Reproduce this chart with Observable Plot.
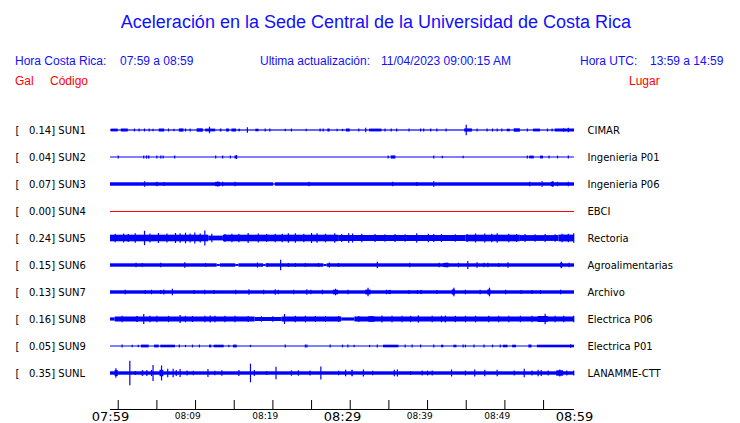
<!DOCTYPE html>
<html>
<head>
<meta charset="utf-8">
<script src="https://cdn.jsdelivr.net/npm/d3@7"></script>
<script src="https://cdn.jsdelivr.net/npm/@observablehq/plot@0.6"></script>
<style>
  html, body { margin: 0; padding: 0; background: #fff; }
  #page { position: relative; width: 740px; height: 423px; overflow: hidden; background: #fff; }
  #header { position: relative; width: 740px; height: 100px; font-family: "Liberation Sans", Arial, sans-serif; }
  #header span { position: absolute; white-space: pre; line-height: 1; }
  .blue { color: #1010ff; }
  .red { color: #ff0000; }
  #chart svg { display: block; white-space: pre; }
</style>
</head>
<body>
<div id="page">
  <div id="header">
    <span class="blue" id="title" style="left:0;width:752px;text-align:center;top:13px;font-size:18px;">Aceleración en la Sede Central de la Universidad de Costa Rica</span>
    <span class="blue" style="left:15px;top:55px;font-size:12px;">Hora Costa Rica:</span>
    <span class="blue" id="crTime" style="left:120px;top:55px;font-size:12px;"></span>
    <span class="blue" style="left:260px;top:55px;font-size:12px;">Ultima actualización:</span>
    <span class="blue" id="updated" style="left:381px;top:55px;font-size:12px;"></span>
    <span class="blue" style="left:580px;top:55px;font-size:12px;">Hora UTC:</span>
    <span class="blue" id="utcTime" style="left:650px;top:55px;font-size:12px;"></span>
    <span class="red" style="left:15px;top:75px;font-size:12px;">Gal</span>
    <span class="red" style="left:50px;top:75px;font-size:12px;">Código</span>
    <span class="red" style="left:629px;top:75px;font-size:12px;">Lugar</span>
  </div>
  <div id="chart"></div>
</div>
<script>
// ---------- data ----------
const codes  = ["SUN1","SUN2","SUN3","SUN4","SUN5","SUN6","SUN7","SUN8","SUN9","SUNL"];
const places = ["CIMAR","Ingenieria P01","Ingenieria P06","EBCI","Rectoria","Agroalimentarias","Archivo","Electrica P06","Electrica P01","LANAMME-CTT"];
const peaks  = [0.14, 0.04, 0.07, 0.00, 0.24, 0.15, 0.13, 0.16, 0.05, 0.35];

const crRange  = "07:59 a 08:59";
const utcRange = "13:59 a 14:59";
const updated  = "11/04/2023 09:00:15 AM";
const startTime = "2023-04-11T07:59:00Z";   // window start (Costa Rica time, shown as-is)
const spanMinutes = 60;
const tickStep = 5;
const bigTickLabels   = ["07:59","08:29","08:59"];
const smallTickLabels = ["08:09","08:19","08:39","08:49"];

// Trace envelopes: [t1, t2, amp] = sustained band, [t, amp] = single burst.
// t in minutes after 07:59, amp = half-amplitude in trace units.
const sun1 = [[0,60,0.6],[0.1,1.0,1.4],[1.4,2.3,1.5],[3.1,1.5],[3.7,1.5],[4.4,1.5],[5.0,1.5],[5.5,1.2],[6.3,7.0,1.5],[7.5,1.5],[8.2,1.2],[8.9,9.5,1.6],[9.7,1.5],[10.3,1.5],[11.2,12.0,1.7],[12.8,3.3],[12.3,13.6,1.4],[14.2,14.4,1.5],[15.0,15.4,1.5],[15.7,16.3,1.5],[16.6,16.8,1.3],[17.7,2.7],[18.8,19.2,1.3],[20.0,1.5],[20.6,1.5],[22.6,1.2],[23.4,1.5],[25.3,1.2],[27.1,1.5],[27.5,1.5],[28.1,28.4,1.5],[29.3,1.2],[30.0,1.2],
  [30.5,31.0,1.5],[32.1,1.5],[33.0,2.2],[33.5,35.1,1.4],[35.5,1.5],[36.3,1.5],[37.0,1.5],[38.6,1.6],[40.1,1.5],[40.5,1.5],[41.4,1.5],[42.2,1.5],[43.4,1.5],[46.0,5.3],[45.8,46.8,1.6],[47.4,1.5],[48.7,1.6],[49.4,1.5],[50.0,1.5],[50.6,1.5],[51.3,51.7,1.3],[52.2,53.0,1.7],[53.9,1.5],[54.7,55.6,1.4],[56.5,1.5],[57.1,1.5],[57.5,60,1.5],[58.6,1.8],[59.2,2.3]];
const sun2 = [[0,60,0.5],[1.0,1.4],[4.3,1.4],[4.65,1.6],[4.9,5.1,1.5],[6.0,1.6],[6.5,1.4],[6.8,1.4],[8.3,1.4],[13.6,1.6],[14.5,1.4],[15.5,1.4],[16.1,16.4,1.5],[16.3,2.0],
  [35.9,1.4],[36.3,36.9,1.6],[41.8,1.6],[42.9,1.2],[45.6,1.2],[53.9,1.4],[54.2,54.8,1.4],[55.6,56.0,1.4],[56.7,1.4],[57.8,1.4],[59.2,1.4]];
const sun3 = [[0,21.1,1.7],[21.1,21.3,0.8],[21.3,60,1.7],[4.4,2.7],[6.0,2.3],[6.9,2.0],[13.6,14.2,2.2],[13.9,2.5],[14.5,2.3],[16.1,2.3],[25.7,2.3],
  [36.5,2.3],[39.6,2.0],[41.8,2.7],[54.2,2.3],[55.8,2.7],[57.0,57.4,2.3],[57.2,2.7],[57.8,2.3],[59.2,2.3]];
const sun4 = [];
const sun5 = [[0,12.7,3.3],[12.7,14.6,2.4],[14.6,29.5,3.3],[29.5,46,3.0],[46,53,3.3],[53,58,2.9],[58,60,3.4],
  [0.6,4.3],[1.7,4.5],[2.3,4.0],[3.2,4.7],[4.4,7.2],[5.1,4.5],[6.2,5.0],[7.3,4.5],[8.4,5.0],[9.0,4.7],[9.7,5.3],[10.3,4.5],[10.9,5.5],[11.6,4.5],[12.2,7.6],[13.1,4.3],[14.8,4.0],[15.7,4.3],[16.6,4.3],[17.8,5.0],[19.1,4.5],[20.2,4.0],[21.3,4.3],[22.2,4.3],[23.0,4.7],[23.9,4.7],[25.0,4.3],[26.0,5.0],[26.7,4.7],[27.8,4.3],[29.0,4.7],[29.9,4.0],
  [30.8,4.7],[31.3,4.5],[32.5,4.3],[34.2,4.0],[35.5,3.7],[36.8,4.0],[38.1,3.7],[39.6,4.7],[41.1,4.3],[41.8,4.0],[42.8,4.0],[44.6,3.7],[46.1,4.0],[47.2,4.5],[48.4,4.5],[49.3,4.3],[50.0,4.7],[51.5,4.3],[52.5,4.0],[53.6,4.0],[54.9,3.7],[56.2,4.0],[57.5,3.7],[58.4,4.3],[59.2,4.3],[59.9,4.7]];
const sun6 = [[0,13.8,1.7],[13.8,14.2,1.0],[14.2,16.2,1.7],[16.2,16.6,1.0],[16.6,19.8,1.7],[19.8,20.1,1.0],[20.1,27.6,1.7],[27.6,28.0,1.0],[28.0,60,1.7],
  [3.3,2.3],[4.1,2.0],[6.5,2.3],[9.6,2.7],[12.3,2.0],[19.0,2.5],[20.3,2.0],[22.0,5.2],[23.0,2.0],[23.9,2.0],[25.2,2.0],[26.9,2.0],[28.3,2.5],[29.5,2.0],
  [34.5,3.3],[38.7,2.3],[42.5,2.3],[43.1,43.8,2.1],[43.5,2.5],[45.0,2.3],[46.2,4.0],[47.4,2.7],[48.3,2.3],[48.8,2.3],[50.2,2.0],[51.4,2.7],[58.2,58.5,2.3],[58.3,3.3],[59.3,2.3]];
const sun7 = [[0,60,1.7],[1.9,2.3],[4.5,2.0],[5.3,2.3],[6.5,2.0],[6.9,2.5],[8.0,3.3],[10.8,2.0],[12.2,2.3],[13.4,2.0],[16.2,2.3],[17.9,2.7],[19.8,2.3],[21.3,2.7],[21.7,2.3],[23.7,2.3],[25.4,2.7],[25.9,2.3],[27.4,2.3],[28.8,29.5,2.3],[29.1,3.3],
  [30.7,2.3],[33.0,33.7,2.4],[33.3,4.3],[35.7,2.3],[36.0,36.3,2.1],[38.6,2.0],[39.7,2.0],[40.1,40.3,2.1],[42.2,2.0],[44.2,44.6,2.6],[44.4,4.3],[45.9,2.3],[47.8,2.3],[48.8,49.2,2.6],[49.0,4.3],[51.1,2.3],[53.1,2.0],[54.5,2.0],[55.6,2.0],[58.2,2.3]];
const sun8 = [[0,0.6,1.6],[0.6,18.7,2.5],[18.7,22.2,2.0],[22.2,29.9,2.5],[29.9,31.6,1.6],[31.6,60,2.5],
  [1.5,3.2],[3.4,3.6,3.0],[4.3,5.0],[5.1,3.2],[6.0,3.2],[7.5,3.2],[9.0,4.0],[9.7,3.2],[10.6,3.0],[12.2,3.2],[12.9,3.5],[13.5,3.2],[14.8,3.2],[16.1,3.2],[17.8,3.0],[19.5,2.8],[21.0,2.8],[22.5,5.0],[23.9,3.2],[25.2,3.2],[26.5,3.0],[27.8,3.0],[29.5,3.0],
  [32.1,3.0],[33.4,34.2,2.8],[35.1,3.5],[36.4,3.2],[37.7,3.2],[38.8,3.2],[39.8,3.7],[41.6,3.2],[42.8,3.3],[43.3,3.5],[44.6,3.2],[45.9,3.2],[47.2,3.3],[48.9,3.3],[50.2,3.3],[51.5,3.3],[53.0,3.2],[54.5,3.2],[55.3,56.6,3.0],[56.2,5.2],[57.5,3.3],[58.6,3.2],[59.9,3.2]];
const sun9 = [[0,60,0.5],[1.5,1.4],[2.8,1.2],[3.6,1.2],[4.0,5.0,1.4],[5.7,6.3,1.4],[6.5,8.4,1.3],[8.9,1.4],[9.7,1.2],[10.6,1.4],[11.5,1.4],[12.8,13.1,1.4],[13.4,14.7,1.3],[15.3,1.2],[15.9,16.4,1.4],[18.1,1.2],[22.6,1.4],[25.2,1.4],[25.4,1.4],[28.4,1.4],
  [30.0,1.4],[30.7,1.4],[31.5,1.2],[33.5,1.2],[34.5,1.4],[35.3,37.3,1.3],[38.1,1.4],[39.0,1.4],[40.1,1.4],[41.8,1.4],[42.8,43.1,1.3],[44.4,44.8,1.3],[45.6,1.4],[45.9,1.4],[47.0,1.4],[48.3,1.4],[49.4,1.4],[50.4,1.4],[50.8,51.4,1.3],[52.0,52.5,1.3],[54.1,54.5,1.5],[55.2,60,1.3],[59.5,1.7]];
const sunL = [[0,60,1.7],[0.6,1.0,3.0],[0.7,4.7],[2.5,12.3],[3.2,2.0],[4.1,4.3,2.8],[4.7,3.0],[5.3,3.0],[5.5,8.0],[6.4,6.9,3.2],[6.6,7.5],[7.4,4.3],[8.1,4.3],[8.5,3.0],[9.0,4.0],[9.9,2.5],[10.7,2.3],[12.6,4.0],[13.5,2.3],[14.4,2.7],[16.6,3.0],[18.1,9.3],[18.6,3.0],[20.2,2.0],[21.4,6.3],[23.4,2.7],[24.3,2.7],[25.8,2.5],[27.2,6.5],[29.5,2.3],
  [30.4,3.3],[31.2,31.4,3.2],[32.7,3.5],[33.9,2.3],[36.7,3.3],[37.1,3.5],[38.8,2.0],[40.3,2.5],[41.0,2.5],[41.6,2.5],[44.1,3.5],[45.9,2.5],[47.1,3.5],[48.4,3.3],[50.0,3.3],[52.2,2.5],[53.5,4.3],[54.5,2.5],[55.3,3.3],[55.7,3.0],[56.6,2.5],[57.7,58.6,2.7],[58.1,3.5],[59.0,2.5],[59.9,2.5]];

const traces = [sun1, sun2, sun3, sun4, sun5, sun6, sun7, sun8, sun9, sunL];

// ---------- build ----------
document.getElementById("crTime").textContent = crRange;
document.getElementById("utcTime").textContent = utcRange;
document.getElementById("updated").textContent = updated;

const rowGap = 27;                // trace units between rows
const t0 = new Date(startTime);
const at = (m) => new Date(+t0 + m * 60000);
const t1 = at(spanMinutes);
const parseHM = (s) => { const [h, m] = s.split(":").map(Number); return new Date(Date.UTC(2023, 3, 11, h, m)); };

const rows = codes.map((code, i) => ({row: i, code, place: places[i], peak: peaks[i]}));
const blocks = [], bursts = [];
traces.forEach((tr, i) => tr.forEach(e => {
  if (e.length === 3) blocks.push({row: i, a: at(e[0]), b: at(e[1]), amp: e[2]});
  else bursts.push({row: i, t: at(e[0]), amp: e[1]});
}));
const flatRows = rows.filter(r => r.peak === 0);
const ticks = d3.utcMinute.every(tickStep).range(t0, at(spanMinutes + 0.5));
const bigTicks = bigTickLabels.map(parseHM);
const smallTicks = smallTickLabels.map(parseHM);
const fmt = d3.utcFormat("%H:%M");

const yTop = -30, yAxis = 279;    // trace-unit extent of the drawing (axis line at yAxis)
const blue = "#0000ff";

const chart = Plot.plot({
  width: 740, height: 323,
  marginLeft: 110, marginRight: 166, marginTop: 0, marginBottom: 14,
  x: {type: "utc", domain: [t0, t1], axis: null},
  y: {type: "linear", domain: [yTop, yAxis], range: [0, 309], axis: null},
  style: {fontFamily: "DejaVu Sans, sans-serif", fontSize: "10px", background: "#fff", overflow: "visible"},
  marks: [
    Plot.rect(blocks, {x1: "a", x2: "b", y1: d => d.row * rowGap - d.amp, y2: d => d.row * rowGap + d.amp,
      fill: blue}),
    Plot.ruleX(bursts, {x: "t", y1: d => d.row * rowGap - d.amp, y2: d => d.row * rowGap + d.amp,
      stroke: blue, strokeWidth: 1.2}),
    Plot.ruleY(flatRows, {y: d => d.row * rowGap, stroke: "#ff0000", strokeWidth: 1, shapeRendering: "crispEdges"}),
    Plot.text(rows, {frameAnchor: "left", y: d => d.row * rowGap, dx: -95, textAnchor: "start",
      text: d => `[   ${d.peak.toFixed(2)}] ${d.code}`, fill: "#000"}),
    Plot.text(rows, {frameAnchor: "right", y: d => d.row * rowGap, dx: 13, textAnchor: "start",
      text: "place", fill: "#000"}),
    // time axis
    Plot.ruleY([yAxis], {stroke: "#000", strokeWidth: 1}),
    Plot.ruleX(ticks, {x: d => d, y1: yAxis - 9, y2: yAxis, stroke: "#000", strokeWidth: 1}),
    Plot.text(bigTicks, {x: d => d, frameAnchor: "bottom", lineAnchor: "top", dy: 2, fontSize: 13,
      text: d => fmt(d), fill: "#000"}),
    Plot.text(smallTicks, {x: d => d, frameAnchor: "bottom", lineAnchor: "top", dy: 3.5, fontSize: 9,
      text: d => fmt(d), fill: "#000"})
  ]
});
document.getElementById("chart").appendChild(chart);
</script>
</body>
</html>
